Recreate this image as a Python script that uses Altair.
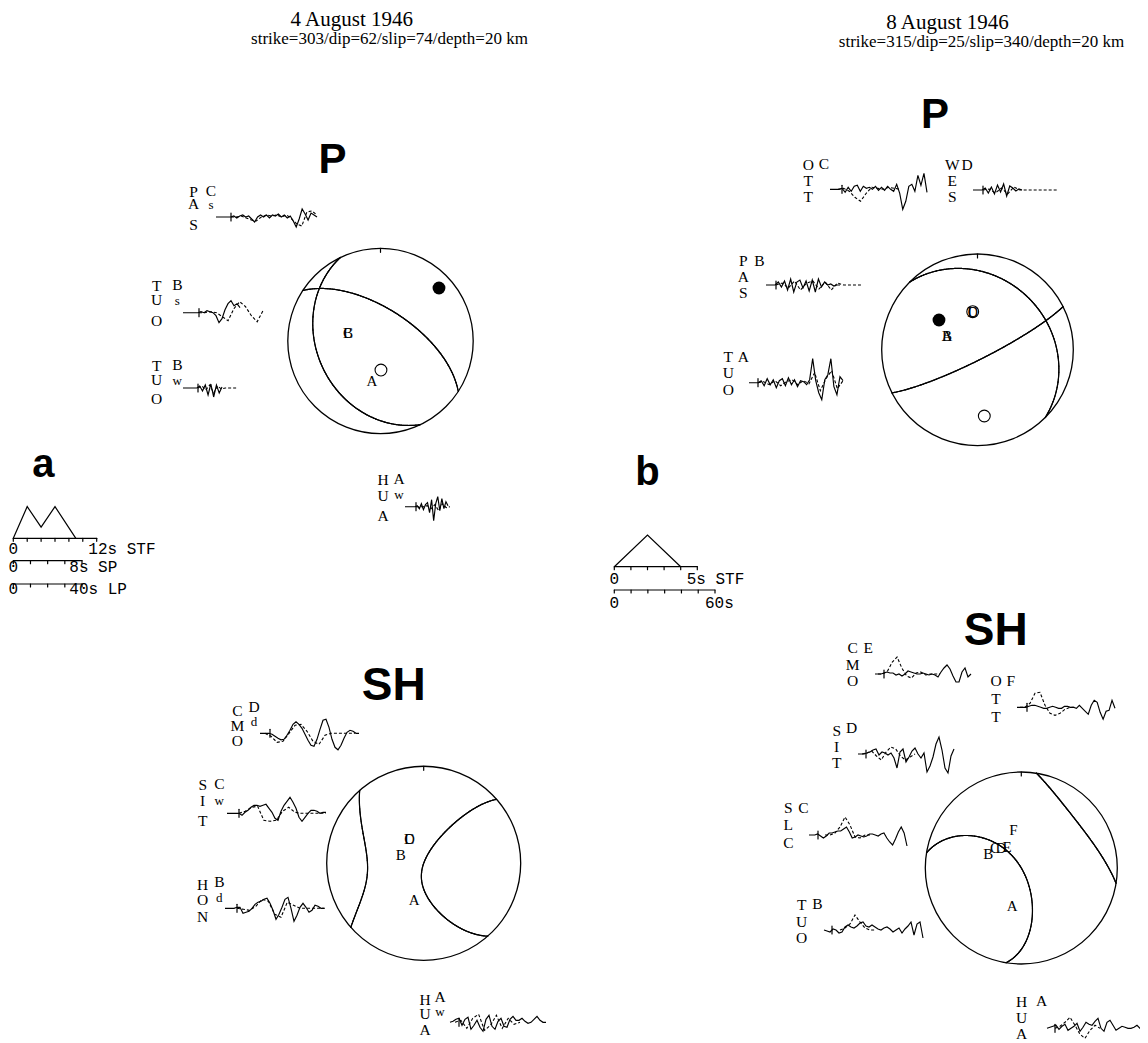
import numpy as np
import pandas as pd
import altair as alt

# ---------------- data ----------------
EVENT_TITLES = ["4 August 1946", "8 August 1946"]
MECH_1 = [303, 62, 74]      # strike, dip, slip
MECH_2 = [315, 25, 340]
DEPTHS = [20, 20]

# station marks inside the focal spheres, unit-circle coords (east, north)
P1_FILLED = [(0.631, 0.572)]
P1_OPEN = [(0.005, -0.313)]
P1_LABELS = [("B", -0.351, 0.086), ("C", -0.351, 0.086), ("A", -0.092, -0.431)]
P2_FILLED = [(-0.402, 0.311)]
P2_OPEN = [(-0.050, 0.398), (0.071, -0.691)]
P2_LABELS = [("A", -0.318, 0.144), ("B", -0.318, 0.144), ("C", -0.050, 0.398), ("D", -0.050, 0.398)]
S1_LABELS = [("C", -0.148, 0.247), ("D", -0.148, 0.247), ("B", -0.237, 0.086), ("A", -0.097, -0.378)]
S2_LABELS = [("F", -0.083, 0.396), ("B", -0.344, 0.146), ("C", -0.274, 0.205),
             ("D", -0.211, 0.208), ("E", -0.149, 0.216), ("A", -0.094, -0.396)]

# waveforms: observed (solid) and synthetic (dashed) amplitudes
P1_PAS_obs = [0,0,0,0,0,0,1,-1,1,2,0,1,-2,-5,0,2,0,2,-1,2,1,3,0,2,-1,1,-4,-10,-2,8,3,-3,4,2,0]
P1_PAS_syn = [0,0,1,-1,-3,-4,0,2,1,2,0,2,-2,-7,-9,5,6,2]
P1_TUOs_obs = [0,0,0,0,0,0,1,0,2,1,0,-3,-10,-6,3,9,12,7,9,5]
P1_TUOs_syn = [0,0,1,0,-4,-8,4,11,6,-3,-9,2]
P1_TUOw_obs = [0,0,0,0,0,0,2,-3,3,-7,4,-9,3,-5,1]
P1_TUOw_syn = [0,2,-2,3,-5,2,-1,0,0,0,0]
P1_HUA_obs = [0,0,0,0,0,0,1,-2,3,-3,2,4,-6,7,-14,3,10,-4,8,-2,5,1]
P1_HUA_syn = [0,0,0,1,-2,2,-4,3,-1,0]

P2_OTT_obs = [0,0,0,0,1,-3,2,-2,3,4,-2,3,1,2,0,3,-1,2,-1,3,0,-2,5,-4,-20,-12,3,5,-2,14,4,16,-3]
P2_OTT_syn = [0,1,-2,-8,-12,-4,2,1,0,2,1,0]
P2_WES_obs = [0,0,0,0,2,-3,3,-4,5,-2,6,-6,4,2,-1,1,0]
P2_WES_syn = [0,1,-3,2,-4,3,0,0,0,0,0,0,0]
P2_PAS_obs = [0,0,0,0,3,-2,4,-5,6,-7,3,5,-3,4,-6,5,-7,6,-2,3,0,1,-1,0,0]
P2_PAS_syn = [0,2,-3,4,-5,2,4,-4,3,-5,2,0,0,0,0]
P2_TUO_obs = [0,0,0,0,2,-3,4,-2,3,-5,2,4,-3,5,-2,3,-4,2,1,-2,3,24,2,-10,-17,3,8,24,-4,-12,6,2]
P2_TUO_syn = [0,1,-2,2,-3,1,3,-2,2,-1,10,-8,4,12,-6,2]

S1_CMO_obs = [0,0,0,0,-1,-3,-5,-6.5,-6,-2,3,9,11.5,9,5,-1,-7,-12,-13,-6,4,13,14,6,-6,-14,-16.5,-12,-5,1,3,2,0,0]
S1_CMO_syn = [0,-3,-9,-8,0,8,9,2,-8,-11,-2,0,0,0,0,0]
S1_SIT_obs = [0,0,0,0,0,-2,1,3,6,8,8,7,8,9,5,1,-5,-7,2,8,12,16,11,5,-4,-8,-4,0,3,3,2,0,1,1]
S1_SIT_syn = [0,2,6,7,-7,-8,-7,2,6,1,0,0,0,0,0]
S1_HON_obs = [0,0,0,0,1,1,-5,-4,-3,0,4,6,7,9,10,5,-2,-11,-6,1,9,11,0,-13,-7,1,5,1,-4,-2,3,2,0,0]
S1_HON_syn = [0,-1,-2,2,9,7,-6,-9,6,3,0,0,0,0,0]
S1_HUA_obs = [0,1,3,4,-3,3,5,-7,-3,2,-5,-9,3,7,-4,-7,1,4,-4,-5,3,6,2,2,4,1,-1,0,3,6,2,0,0]
S1_HUA_syn = [0,2,-6,4,8,-8,-3,7,-6,4,-2,0]

S2_CMO_obs = [0,0,0,1,2,1,1,-1,0,-2,0,3,2,1,0,0,1,0,-1,0,-1,-3,2,6,9,5,-2,-8,-8,2,6,-3,0]
S2_CMO_syn = [0,0,3,12,17,6,-2,-4,1,2,-1,0,0,0]
S2_OTT_obs = [0,0,0,0,1,2,2,1,0,-1,-1,0,1,0,-1,-1,1,1,0,0,-1,2,-1,-4,-7,2,7,5,-5,-12,-4,-3,7,-1]
S2_OTT_syn = [0,0,4,14,15,2,-6,-8,-6,-2,0,0]
S2_SIT_obs = [0,0,0,1,2,4,5,-1,2,1,-1,1,-4,-14,2,5,-8,-3,3,6,0,-4,1,-18,-12,-3,10,17,4,-14,-19,-2,5]
S2_SIT_syn = [0,1,3,-2,-6,2,7,5,-2,-6,-3,0]
S2_SLC_obs = [0,0,0,1,-1,-3,-1,2,2,3,4,4,6,8,3,-3,-2,0,-1,-2,-1,1,1,0,-1,1,2,-3,-7,-10,-4,3,8,2,-11]
S2_SLC_syn = [0,0,2,8,18,10,-2,-3,0,0]
S2_TUO_obs = [0,-1,-2,1,0,-3,-2,3,5,3,2,4,7,8,4,3,5,3,1,0,2,3,1,-2,0,2,-3,1,4,8,-5,6,8,-8]
S2_TUO_syn = [0,2,6,15,8,2,0,0]
S2_HUA_obs = [0,1,2,3,-1,2,4,-2,0,2,5,-3,1,6,4,3,7,10,0,-3,6,8,3,-2,0,2,1,0,0,1,3,0,1]
S2_HUA_syn = [0,2,6,11,3,-6,-10,-2,3,0]

# source time functions (s, relative amplitude)
STF_A_T = [0, 2, 4, 6, 9]
STF_A_AMP = [0, 1, 0.35, 1, 0]
STF_B_T = [0, 2, 4]
STF_B_AMP = [0, 1, 0]

# ---------------- layout ----------------
W, H = 1132, 1035
X0, Y0 = 8, 8
INK = "black"
LETTER_FONT = "Liberation Serif"

BALLS = [
    dict(kind="P", mech=MECH_1, cx=380.5, cy=341.0, R=92.7, filled=P1_FILLED, open=P1_OPEN, labels=P1_LABELS),
    dict(kind="P", mech=MECH_2, cx=977.5, cy=349.8, R=95.8, filled=P2_FILLED, open=P2_OPEN, labels=P2_LABELS),
    dict(kind="SH", mech=MECH_1, cx=423.7, cy=863.3, R=97.0, filled=[], open=[], labels=S1_LABELS),
    dict(kind="SH", mech=MECH_2, cx=1021.3, cy=868.0, R=96.0, filled=[], open=[], labels=S2_LABELS),
]

# name, code, sub, letter x, letter ys, code xy, sub y, baseline, obs x-range, syn x-range, tick x, obs, syn
STATIONS = [
    ("PAS", "C", "s", 193.5, (191.7, 204.3, 224.7), (211, 190.7), 205.0, 217.0, (216, 317), (231, 317), 231, P1_PAS_obs, P1_PAS_syn),
    ("TUO", "B", "s", 156.7, (285.7, 300.3, 320.7), (177.3, 284.7), 300.5, 312.7, (183, 240), (199, 263), 199, P1_TUOs_obs, P1_TUOs_syn),
    ("TUO", "B", "w", 156.7, (366.0, 379.7, 399.3), (177.3, 365.0), 380.5, 388.0, (183, 222), (198, 237), 198, P1_TUOw_obs, P1_TUOw_syn),
    ("HUA", "A", "w", 383.0, (480.0, 495.5, 515.5), (399.0, 479.0), 495.0, 506.7, (405, 448), (416, 450), 416, P1_HUA_obs, P1_HUA_syn),
    ("OTT", "C", "", 808.3, (165.0, 180.5, 196.7), (824.0, 164.0), 0, 189.3, (830, 927), (838, 900), 842, P2_OTT_obs, P2_OTT_syn),
    ("WES", "D", "", 952.3, (165.0, 180.5, 197.0), (967.0, 165.0), 0, 190.0, (973, 1022), (983, 1057), 983, P2_WES_obs, P2_WES_syn),
    ("PAS", "B", "", 743.3, (260.7, 277.0, 293.3), (759.3, 260.7), 0, 285.0, (766, 840), (776, 862), 776, P2_PAS_obs, P2_PAS_syn),
    ("TUO", "A", "", 728.3, (356.7, 373.0, 390.0), (743.3, 357.0), 0, 382.7, (749, 843), (758, 843), 758, P2_TUO_obs, P2_TUO_syn),
    ("CMO", "D", "d", 237.3, (711.0, 726.0, 740.7), (254.0, 707.3), 721.7, 733.3, (260, 359), (265, 355), 270, S1_CMO_obs, S1_CMO_syn),
    ("SIT", "C", "w", 202.7, (785.0, 801.0, 821.0), (219.3, 784.0), 800.5, 813.3, (227, 326), (239, 326), 239, S1_SIT_obs, S1_SIT_syn),
    ("HON", "B", "d", 202.7, (885.0, 900.0, 916.7), (219.3, 882.3), 897.5, 908.3, (225, 324), (237, 325), 237, S1_HON_obs, S1_HON_syn),
    ("HUA", "A", "w", 425.0, (1000.0, 1014.3, 1030.0), (440.0, 997.3), 1012.0, 1022.3, (450, 546), (455, 520), 459, S1_HUA_obs, S1_HUA_syn),
    ("CMO", "E", "", 852.7, (648.3, 665.0, 680.7), (868.3, 647.7), 0, 674.0, (875, 971), (878, 940), 884, S2_CMO_obs, S2_CMO_syn),
    ("OTT", "F", "", 996.0, (681.0, 699.0, 716.7), (1010.7, 681.0), 0, 707.3, (1017, 1115), (1020, 1075), 1027, S2_OTT_obs, S2_OTT_syn),
    ("SIT", "D", "", 836.7, (730.7, 746.7, 763.3), (851.7, 728.3), 0, 754.0, (858, 954), (862, 915), 866, S2_SIT_obs, S2_SIT_syn),
    ("SLC", "C", "", 788.3, (808.3, 825.0, 843.3), (803.3, 808.3), 0, 835.0, (809, 907), (825, 870), 818, S2_SLC_obs, S2_SLC_syn),
    ("TUO", "B", "", 801.7, (905.0, 921.7, 938.3), (817.3, 904.0), 0, 930.0, (824, 923), (840, 875), 832, S2_TUO_obs, S2_TUO_syn),
    ("HUA", "A", "", 1021.7, (1001.7, 1017.5, 1034.0), (1041.7, 1001.0), 0, 1028.3, (1047, 1143), (1055, 1100), 1055, S2_HUA_obs, S2_HUA_syn),
]


# ---------------- radiation patterns / nodal lines ----------------
def radiation(kind, inc, az, strike, dip, rake):
    phi = np.radians(az - strike)
    d = np.radians(dip)
    lam = np.radians(rake)
    if kind == "P":
        return (np.cos(lam) * np.sin(d) * np.sin(inc) ** 2 * np.sin(2 * phi)
                - np.cos(lam) * np.cos(d) * np.sin(2 * inc) * np.cos(phi)
                + np.sin(lam) * np.sin(2 * d) * (np.cos(inc) ** 2 - np.sin(inc) ** 2 * np.sin(phi) ** 2)
                + np.sin(lam) * np.cos(2 * d) * np.sin(2 * inc) * np.sin(phi))
    return (np.cos(lam) * np.cos(d) * np.cos(inc) * np.sin(phi)
            + np.cos(lam) * np.sin(d) * np.sin(inc) * np.cos(2 * phi)
            + np.sin(lam) * np.cos(2 * d) * np.cos(inc) * np.cos(phi)
            - 0.5 * np.sin(lam) * np.sin(2 * d) * np.sin(inc) * np.sin(2 * phi))


def clip_unit(p, q):
    pin = p[0] ** 2 + p[1] ** 2 <= 1.0
    qin = q[0] ** 2 + q[1] ** 2 <= 1.0
    if pin and qin:
        return p, q
    if not pin and not qin:
        return None
    dx, dy = q[0] - p[0], q[1] - p[1]
    a = dx * dx + dy * dy
    b = 2 * (p[0] * dx + p[1] * dy)
    c = p[0] ** 2 + p[1] ** 2 - 1
    disc = max(b * b - 4 * a * c, 0.0)
    ts = [(-b + np.sqrt(disc)) / (2 * a), (-b - np.sqrt(disc)) / (2 * a)]
    t = min(ts, key=lambda v: abs(v - 0.5))
    pt = (p[0] + t * dx, p[1] + t * dy)
    return (p, pt) if pin else (pt, q)


def nodal_segments(kind, mech, n=240):
    g = np.linspace(-1.03, 1.03, n)
    XX, YY = np.meshgrid(g, g)
    r = np.hypot(XX, YY)
    inc = 2 * np.arcsin(np.clip(r / np.sqrt(2), 0, 1))
    az = np.degrees(np.arctan2(XX, YY))
    F = radiation(kind, inc, az, *mech)
    S = F > 0
    change = (S[:-1, :-1] != S[:-1, 1:]) | (S[:-1, :-1] != S[1:, :-1]) | (S[:-1, :-1] != S[1:, 1:])
    segs = []
    for j, k in np.argwhere(change):
        corners = [(j, k), (j, k + 1), (j + 1, k + 1), (j + 1, k)]
        pts = []
        for a in range(4):
            p, q = corners[a], corners[(a + 1) % 4]
            f1, f2 = F[p], F[q]
            if (f1 > 0) != (f2 > 0):
                t = f1 / (f1 - f2)
                pts.append((XX[p] + t * (XX[q] - XX[p]), YY[p] + t * (YY[q] - YY[p])))
        if len(pts) == 2:
            segs.append((pts[0], pts[1]))
        elif len(pts) == 4:
            segs.append((pts[0], pts[1]))
            segs.append((pts[2], pts[3]))
    out = []
    for p, q in segs:
        c = clip_unit(p, q)
        if c is not None:
            out.append(c)
    return out


# ---------------- build tables ----------------
rules, circles, dots, rings = [], [], [], []
letters, letters_small = [], []
for b in BALLS:
    cx, cy, R = b["cx"], b["cy"], b["R"]
    for p, q in nodal_segments(b["kind"], b["mech"]):
        rules.append(dict(x=cx + R * p[0], y=cy - R * p[1], x2=cx + R * q[0], y2=cy - R * q[1]))
    circles.append(dict(x=cx, y=cy, s=(2 * R) ** 2))
    rules.append(dict(x=cx, y=cy - R, x2=cx, y2=cy - R + 4))
    for e, nn in b["filled"]:
        dots.append(dict(x=cx + R * e, y=cy - R * nn, s=165))
    for e, nn in b["open"]:
        rings.append(dict(x=cx + R * e, y=cy - R * nn, s=140))
    for t, e, nn in b["labels"]:
        letters.append(dict(x=cx + R * e, y=cy - R * nn, t=t, fs=15))

obs_rows, syn_rows = [], []
for k, st in enumerate(STATIONS):
    (name, code, sub, lx, lys, cxy, sy, base, orng, srng, tick, obs, syn) = st
    for letter, yy in zip(name, lys):
        letters.append(dict(x=lx, y=yy, t=letter, fs=15.5))
    letters.append(dict(x=cxy[0], y=cxy[1], t=code, fs=15.5))
    if sub:
        letters_small.append(dict(x=cxy[0], y=sy, t=sub, fs=13))
    for i, (xx, v) in enumerate(zip(np.linspace(orng[0], orng[1], len(obs)), obs)):
        obs_rows.append(dict(id=k, i=i, x=float(xx), y=base - v))
    for i, (xx, v) in enumerate(zip(np.linspace(srng[0], srng[1], len(syn)), syn)):
        syn_rows.append(dict(id=k, i=i, x=float(xx), y=base - v))
    rules.append(dict(x=tick, y=base - 4, x2=tick, y2=base + 4))

# time scales (panel a and b)
stf_rows = []
def time_bar(x0, y, length_px, total_s, step_s):
    rules.append(dict(x=x0, y=y, x2=x0 + length_px, y2=y))
    nt = int(round(total_s / step_s))
    for m in range(nt + 1):
        xx = x0 + length_px * m * step_s / total_s
        rules.append(dict(x=xx, y=y, x2=xx, y2=y + 3))

def stf(idn, x0, y, px_per_s, amp_px, ts, amps):
    for i, (t, a) in enumerate(zip(ts, amps)):
        stf_rows.append(dict(id=idn, i=i, x=x0 + t * px_per_s, y=y - a * amp_px))

time_bar(13.3, 538.3, 83.4, 12, 2)
time_bar(13.3, 560.7, 68.7, 8, 2)
time_bar(13.3, 584.0, 68.7, 40, 10)
stf(0, 13.3, 538.3, 83.4 / 12, 31.7, STF_A_T, STF_A_AMP)
time_bar(614.3, 566.7, 83.0, 5, 1)
time_bar(614.3, 590.0, 100.7, 60, 10)
stf(1, 614.3, 566.7, 83.0 / 5, 31.7, STF_B_T, STF_B_AMP)

scale_center = [dict(x=13.3, y=549.3, t="0", fs=16), dict(x=13.3, y=567.0, t="0", fs=16),
                dict(x=13.3, y=589.0, t="0", fs=16), dict(x=614.3, y=579.3, t="0", fs=16),
                dict(x=614.3, y=602.5, t="0", fs=16)]
scale_left = [dict(x=88.3, y=549.3, t="12s STF", fs=16), dict(x=69.3, y=567.0, t="8s SP", fs=16),
              dict(x=69.3, y=589.0, t="40s LP", fs=16), dict(x=686.7, y=579.3, t="5s STF", fs=16),
              dict(x=705.0, y=602.5, t="60s", fs=16)]

titles = [dict(x=351.7, y=26.0, t=EVENT_TITLES[0], fs=21), dict(x=947.5, y=29.3, t=EVENT_TITLES[1], fs=21)]
subs = []
for (m, dep, xx, yy) in [(MECH_1, DEPTHS[0], 389.5, 44.0), (MECH_2, DEPTHS[1], 981.5, 46.7)]:
    subs.append(dict(x=xx, y=yy, t=f"strike={m[0]}/dip={m[1]}/slip={m[2]}/depth={dep} km", fs=17))
big = [dict(x=332.5, y=173.3, t="P", fs=42), dict(x=935.0, y=128.3, t="P", fs=42),
       dict(x=393.8, y=700.0, t="SH", fs=46), dict(x=995.8, y=645.0, t="SH", fs=46),
       dict(x=43.3, y=476.7, t="a", fs=40), dict(x=647.5, y=485.0, t="b", fs=40)]

# ---------------- chart ----------------
xenc = alt.X("x:Q", scale=alt.Scale(domain=[X0, X0 + W], nice=False, zero=False), axis=None)
yenc = alt.Y("y:Q", scale=alt.Scale(domain=[Y0, Y0 + H], nice=False, zero=False, reverse=True), axis=None)

def D(rows):
    return alt.Data(values=rows)

def text_layer(rows, font, align="center", baseline="middle", weight="normal"):
    return alt.Chart(D(rows)).mark_text(font=font, fontWeight=weight, align=align, baseline=baseline, color=INK).encode(
        x=xenc, y=yenc, text="t:N", size=alt.Size("fs:Q", scale=None))

layers = [
    alt.Chart(D(rules)).mark_rule(color=INK, strokeWidth=1.2, strokeCap="round").encode(
        x=xenc, y=yenc, x2="x2:Q", y2="y2:Q"),
    alt.Chart(D(circles)).mark_point(shape="circle", filled=False, color=INK, strokeWidth=1.3, opacity=1).encode(
        x=xenc, y=yenc, size=alt.Size("s:Q", scale=None)),
    alt.Chart(D(dots)).mark_point(shape="circle", filled=True, color=INK, opacity=1).encode(
        x=xenc, y=yenc, size=alt.Size("s:Q", scale=None)),
    alt.Chart(D(rings)).mark_point(shape="circle", filled=False, color=INK, strokeWidth=1.1, opacity=1).encode(
        x=xenc, y=yenc, size=alt.Size("s:Q", scale=None)),
    alt.Chart(D(obs_rows)).mark_line(color=INK, strokeWidth=1.15).encode(
        x=xenc, y=yenc, detail="id:N", order="i:Q"),
    alt.Chart(D(syn_rows)).mark_line(color=INK, strokeWidth=1.1, strokeDash=[3, 2]).encode(
        x=xenc, y=yenc, detail="id:N", order="i:Q"),
    alt.Chart(D(stf_rows)).mark_line(color=INK, strokeWidth=1.2).encode(
        x=xenc, y=yenc, detail="id:N", order="i:Q"),
    text_layer(titles, "Liberation Serif", baseline="alphabetic"),
    text_layer(subs, "Liberation Serif", baseline="alphabetic"),
    text_layer(big, "Liberation Sans", baseline="alphabetic", weight="bold"),
    text_layer(letters, LETTER_FONT),
    text_layer(letters_small, LETTER_FONT),
    text_layer(scale_center, "Liberation Mono"),
    text_layer(scale_left, "Liberation Mono", align="left"),
]

chart = alt.layer(*layers).properties(
    width=W, height=H, padding=0, autosize=alt.AutoSizeParams(type="none"), background="white"
).configure_view(stroke=None)

chart.save("out.html", embed_options={"renderer": "svg", "actions": False})
